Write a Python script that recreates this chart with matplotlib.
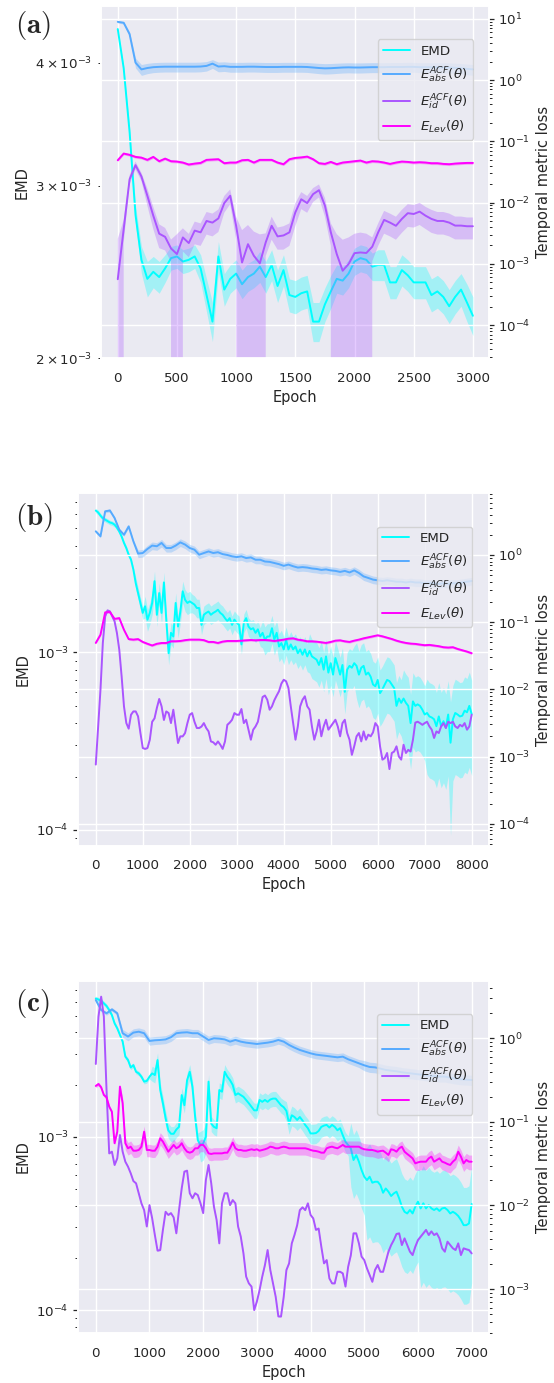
import numpy as np
import matplotlib
matplotlib.use('Agg')
import matplotlib.pyplot as plt
import seaborn as sns

sns.set_theme(style='darkgrid')
plt.rcParams.update({
    'axes.labelsize': 10.5, 'xtick.labelsize': 9.6, 'ytick.labelsize': 9.6,
    'legend.fontsize': 9.6, 'lines.linewidth': 1.4,
    'ytick.major.size': 3.5, 'ytick.minor.size': 2.5,
    'ytick.major.width': 0.9, 'ytick.minor.width': 0.7,
})

#------------------- panel (a): epochs 0..3000, step 50 -------------------
ep_a = np.arange(0, 3001, 50)
emd_a = np.array([4.33, 3.95, 3.40, 2.80, 2.52, 2.41, 2.45, 2.42, 2.47, 2.53,
                  2.54, 2.51, 2.52, 2.54, 2.47, 2.32, 2.18, 2.54, 2.35, 2.41,
                  2.44, 2.38, 2.42, 2.44, 2.48, 2.42, 2.49, 2.37, 2.46, 2.32,
                  2.31, 2.33, 2.34, 2.18, 2.18, 2.27, 2.34, 2.41, 2.40, 2.44,
                  2.51, 2.53, 2.52, 2.48, 2.49, 2.49, 2.39, 2.39, 2.46, 2.43,
                  2.39, 2.39, 2.39, 2.32, 2.34, 2.31, 2.26, 2.31, 2.35, 2.28, 2.21]) * 1e-3
emd_a_std = np.array([0.0, 0.02, 0.04, 0.06, 0.08, 0.10, 0.09, 0.09, 0.08, 0.07,
                      0.07, 0.07, 0.07, 0.07, 0.08, 0.09, 0.10, 0.09, 0.09, 0.08,
                      0.08, 0.08, 0.08, 0.08, 0.09, 0.09, 0.09, 0.09, 0.09, 0.09,
                      0.09, 0.09, 0.09, 0.10, 0.10, 0.09, 0.09, 0.08, 0.08, 0.08,
                      0.08, 0.08, 0.08, 0.08, 0.09, 0.09, 0.09, 0.09, 0.09, 0.09,
                      0.09, 0.09, 0.09, 0.09, 0.09, 0.09, 0.09, 0.09, 0.09, 0.10, 0.10]) * 1e-3
abs_a = np.array([8.9, 8.6, 5.6, 1.92, 1.49, 1.57, 1.62, 1.64, 1.65, 1.65,
                  1.65, 1.65, 1.65, 1.65, 1.66, 1.70, 1.85, 1.66, 1.68, 1.64,
                  1.64, 1.64, 1.65, 1.65, 1.64, 1.63, 1.63, 1.63, 1.64, 1.64,
                  1.64, 1.64, 1.63, 1.60, 1.57, 1.55, 1.56, 1.58, 1.60, 1.61,
                  1.60, 1.60, 1.61, 1.62, 1.62, 1.62, 1.63, 1.63, 1.63, 1.64,
                  1.64, 1.62, 1.62, 1.61, 1.61, 1.60, 1.60, 1.58, 1.56, 1.52, 1.49])
abs_a_std = np.array([0.4, 0.4, 0.5, 0.35] + [0.3] * 57)
id_a = np.array([0.56, 3.67, 24.0, 40.7, 26.6, 12.9, 6.1, 3.1, 2.75, 1.78,
                 1.44, 2.69, 2.18, 3.48, 3.26, 5.0, 4.7, 5.5, 9.8, 12.9,
                 4.17, 1.05, 2.09, 1.35, 1.02, 2.24, 4.17, 2.8, 2.9, 3.26,
                 6.9, 11.3, 9.8, 13.7, 15.9, 8.9, 3.26, 1.44, 0.77, 0.99,
                 1.49, 1.53, 1.5, 1.9, 3.26, 5.2, 4.7, 4.17, 5.4, 6.7,
                 6.5, 7.1, 6.1, 5.4, 5.0, 5.0, 4.7, 4.2, 4.2, 4.1, 4.1]) * 1e-3
id_a_std = np.array([2.0, 1.5, 4.0, 6.0, 4.0, 4.0, 2.4, 1.3, 1.1, 0.7,
                     1.6, 1.1, 0.9, 1.4, 1.3, 2.0, 1.9, 2.2, 3.0, 3.5,
                     1.7, 2.5, 2.2, 2.0, 2.0, 0.9, 1.7, 1.1, 1.2, 1.3,
                     2.8, 3.5, 3.0, 3.5, 3.8, 3.0, 1.3, 1.6, 1.7, 1.7,
                     1.6, 1.7, 1.6, 0.8, 1.3, 2.1, 1.9, 1.7, 2.2, 2.7,
                     2.6, 2.8, 2.4, 2.2, 2.0, 2.0, 1.9, 1.7, 1.7, 1.6, 1.6]) * 1e-3
lev_a = np.array([0.049, 0.063, 0.060, 0.0556, 0.054, 0.0497, 0.0556, 0.0472, 0.0521, 0.0472,
                  0.0466, 0.0449, 0.0417, 0.0432, 0.0443, 0.0497, 0.0503, 0.0509, 0.0438, 0.0449,
                  0.0449, 0.049, 0.0497, 0.0449, 0.0497, 0.0497, 0.0497, 0.0449, 0.0422, 0.0509,
                  0.0535, 0.0545, 0.0562, 0.0509, 0.0438, 0.0427, 0.046, 0.0422, 0.0449, 0.046,
                  0.0472, 0.0484, 0.0449, 0.0472, 0.0466, 0.0449, 0.0427, 0.0449, 0.0466, 0.046,
                  0.0449, 0.0455, 0.0449, 0.0438, 0.0438, 0.0427, 0.0422, 0.0432, 0.0438, 0.0443, 0.0443])
lev_a_rel = np.array([0.05] * 61)

#------------------- panel (b): epochs 0..8000 -------------------
ep_b = np.arange(0, 8001, 50)
ep_b100 = np.arange(0, 8001, 100)
emd_b = np.array([6.3, 6.15, 5.9, 5.7, 5.6, 5.5, 5.4, 5.35, 5.25, 5.05,
                  4.8, 4.5, 4.14, 3.87, 3.55, 3.33, 2.93, 2.46, 2.16, 1.90,
                  1.67, 1.82, 1.53, 1.67, 1.90, 2.52, 1.63, 2.16, 1.67, 2.48,
                  1.53, 0.99, 1.29, 1.23, 1.90, 1.40, 1.70, 2.21, 1.98, 1.90,
                  1.94, 1.90, 1.86, 1.78, 1.78, 1.43, 1.63, 1.67, 1.70, 1.63,
                  1.67, 1.70, 1.74, 1.67, 1.63, 1.56, 1.50, 1.56, 1.43, 1.53,
                  1.47, 1.43, 1.11, 1.47, 1.56, 1.40, 1.35, 1.37, 1.29, 1.35,
                  1.23, 1.29, 1.18, 1.23, 1.23, 1.37, 1.18, 1.29, 1.08, 1.13,
                  1.04, 1.18, 1.04, 1.11, 1.04, 1.08, 0.99, 1.04, 0.97, 1.04,
                  0.95, 1.02, 0.95, 0.93, 0.91, 0.85, 0.93, 0.80, 0.95, 0.77,
                  0.87, 0.75, 0.93, 0.84, 0.75, 0.85, 0.60, 0.80, 0.84, 0.82,
                  0.87, 0.84, 0.75, 0.82, 0.84, 0.75, 0.77, 0.73, 0.66, 0.645,
                  0.70, 0.59, 0.62, 0.66, 0.70, 0.69, 0.66, 0.63, 0.50, 0.55,
                  0.52, 0.55, 0.52, 0.50, 0.40, 0.53, 0.50, 0.51, 0.50, 0.476,
                  0.447, 0.456, 0.436, 0.43, 0.42, 0.384, 0.436, 0.384, 0.41, 0.376,
                  0.447, 0.31, 0.42, 0.456, 0.447, 0.436, 0.44, 0.47, 0.46, 0.50,
                  0.45]) * 1e-3
emd_b_rel = np.array([0.03] * 17 + [0.08] * 4 + [0.14] * 20 + [0.12] * 30 + [0.18] * 20
                     + [0.25] * 20 + [0.35] * 20 + [0.45] * 10 + [0.55] * 10 + [0.7]
                     + [0.55] * 9)
abs_b = np.array([2.25, 1.90, 4.47, 4.6, 3.55, 2.38, 2.0, 2.67, 1.6, 1.05,
                  1.07, 1.23, 1.38, 1.35, 1.51, 1.27, 1.27, 1.38, 1.54, 1.43,
                  1.27, 1.2, 1.01, 1.07, 1.13, 1.07, 1.1, 1.03, 1.0, 0.955,
                  0.93, 0.955, 0.90, 0.92, 0.85, 0.85, 0.80, 0.79, 0.76, 0.73,
                  0.69, 0.72, 0.68, 0.65, 0.66, 0.65, 0.63, 0.62, 0.60, 0.61,
                  0.59, 0.58, 0.56, 0.58, 0.55, 0.59, 0.54, 0.48, 0.455, 0.43,
                  0.42, 0.41, 0.42, 0.41, 0.40, 0.40, 0.39, 0.40, 0.39, 0.39,
                  0.38, 0.38, 0.38, 0.37, 0.38, 0.37, 0.38, 0.38, 0.39, 0.40,
                  0.41])
abs_b_rel = np.array([0.05] * 9 + [0.13] * 72)
id_b = np.array([0.76, 2.8, 9.9, 49, 122, 150, 145, 122, 103, 69,
                 39, 15.6, 5.6, 3.15, 2.6, 4.2, 4.7, 4.7, 3.96, 2.24,
                 1.34, 1.30, 1.34, 1.78, 3.3, 3.7, 5.3, 7.2, 5.6, 3.5,
                 4.7, 4.44, 3.15, 4.98, 2.8, 1.59, 2.0, 2.0, 2.24, 3.15,
                 4.2, 4.44, 3.3, 2.66, 2.66, 2.8, 3.15, 2.66, 2.37, 1.68,
                 1.63, 1.5, 1.68, 1.5, 1.3, 1.68, 2.97, 3.2, 3.53, 4.44,
                 4.2, 4.2, 5.1, 3.15, 3.53, 2.51, 1.78, 2.51, 2.81, 3.3,
                 4.98, 7.7, 8.1, 7.0, 4.98, 5.6, 6.9, 8.1, 9.4, 12.2,
                 13.9, 13.2, 10.5, 5.6, 3.15, 1.78, 2.81, 5.6, 7.0, 7.9,
                 5.6, 4.98, 2.81, 1.78, 2.37, 3.53, 2.0, 2.81, 3.53, 2.51,
                 2.81, 3.15, 3.53, 2.81, 2.0, 3.15, 3.53, 2.24, 1.78, 1.06,
                 1.42, 2.0, 2.24, 1.68, 2.37, 1.78, 2.12, 2.0, 2.29, 3.15,
                 2.81, 1.42, 0.90, 0.95, 1.13, 0.65, 1.13, 1.19, 1.42, 1.0,
                 0.90, 1.5, 1.13, 1.26, 1.19, 1.78, 3.2, 3.3, 3.15, 2.97,
                 3.15, 3.3, 2.81, 2.51, 1.89, 2.37, 2.24, 2.81, 3.15, 2.66,
                 3.3, 3.15, 3.3, 2.81, 2.66, 2.97, 2.81, 3.15, 2.51, 2.81,
                 4.2]) * 1e-3
id_b_rel = np.array([0.02] * 161)
lev_b = np.array([0.0491, 0.065, 0.14, 0.142, 0.112, 0.115, 0.077, 0.056, 0.055, 0.056,
                  0.0508, 0.0477, 0.045, 0.0477, 0.049, 0.049, 0.052, 0.052, 0.0525, 0.054,
                  0.055, 0.055, 0.055, 0.054, 0.0508, 0.0508, 0.049, 0.0514, 0.0525, 0.0525,
                  0.0525, 0.0531, 0.0537, 0.0543, 0.0537, 0.0543, 0.0543, 0.0537, 0.0525, 0.0537,
                  0.055, 0.0568, 0.0575, 0.055, 0.0537, 0.0519, 0.0519, 0.0513, 0.0502, 0.0491,
                  0.0508, 0.0531, 0.0537, 0.0519, 0.0508, 0.0531, 0.055, 0.0575, 0.0595, 0.0616,
                  0.0638, 0.0616, 0.0588, 0.0562, 0.0531, 0.0508, 0.0491, 0.048, 0.0475, 0.0464,
                  0.0454, 0.0459, 0.0449, 0.0439, 0.0424, 0.0419, 0.0424, 0.040, 0.0382, 0.0365,
                  0.0345])
lev_b_rel = np.array([0.04] * 81)

#------------------- panel (c): epochs 0..7000 -------------------
ep_c = np.arange(0, 7001, 50)
ep_c100 = np.arange(0, 7001, 100)
emd_c = np.array([6.28, 6.19, 6.09, 5.88, 5.68, 5.38, 5.03, 4.51, 4.22, 3.86,
                  3.54, 2.90, 2.77, 2.51, 2.59, 2.37, 2.32, 2.22, 2.08, 2.10,
                  2.22, 2.32, 2.27, 2.77, 1.86, 1.56, 1.28, 1.09, 1.04, 1.04,
                  1.10, 1.14, 1.74, 1.52, 2.12, 2.37, 1.94, 1.30, 0.957, 0.895,
                  0.915, 1.0, 2.08, 1.19, 1.14, 1.12, 1.86, 1.82, 2.37, 2.22,
                  2.12, 1.99, 1.74, 1.78, 1.74, 1.70, 1.63, 1.56, 1.49, 1.42,
                  1.42, 1.63, 1.59, 1.63, 1.59, 1.64, 1.66, 1.66, 1.59, 1.52,
                  1.48, 1.41, 1.19, 1.33, 1.30, 1.25, 1.30, 1.24, 1.17, 1.12,
                  1.045, 1.045, 1.05, 1.08, 1.14, 1.16, 1.17, 1.13, 1.17, 1.14,
                  1.09, 1.12, 1.02, 0.936, 0.895, 0.856, 0.734, 0.784, 0.718, 0.642,
                  0.588, 0.562, 0.588, 0.543, 0.55, 0.55, 0.526, 0.475, 0.503, 0.482,
                  0.455, 0.471, 0.482, 0.441, 0.395, 0.369, 0.361, 0.378, 0.361, 0.395,
                  0.422, 0.386, 0.413, 0.386, 0.404, 0.386, 0.378, 0.386, 0.373, 0.386,
                  0.389, 0.378, 0.361, 0.369, 0.361, 0.349, 0.331, 0.309, 0.309, 0.316,
                  0.409]) * 1e-3
emd_c_rel = np.array([0.03] * 21 + [0.1] * 18 + [0.2] * 3 + [0.1] * 29 + [0.13] * 24
                     + [0.4] * 6 + [0.55] * 20 + [0.65] * 20)
abs_c = np.array([2.87, 2.18, 1.99, 2.22, 1.99, 1.15, 1.05, 1.17, 1.20, 1.15,
                  0.929, 0.946, 0.955, 0.97, 1.03, 1.15, 1.17, 1.18, 1.15, 1.15,
                  1.05, 0.955, 1.0, 0.99, 0.97, 0.912, 0.955, 0.912, 0.887, 0.871,
                  0.855, 0.871, 0.887, 0.912, 0.955, 0.912, 0.832, 0.773, 0.725, 0.692,
                  0.661, 0.638, 0.626, 0.615, 0.603, 0.592, 0.603, 0.561, 0.531, 0.502,
                  0.475, 0.454, 0.449, 0.434, 0.418, 0.41, 0.403, 0.392, 0.385, 0.378,
                  0.371, 0.364, 0.357, 0.354, 0.348, 0.348, 0.338, 0.329, 0.323, 0.320,
                  0.317])
abs_c_rel = np.array([0.05] * 5 + [0.11] * 45 + [0.14] * 21)
id_c = np.array([493, 1820, 3150, 1820, 241, 42, 44, 30.5, 36.6, 69.7,
                 44, 33.4, 29.1, 24.3, 19.6, 18.4, 14.0, 10.6, 8.8, 5.6,
                 10.1, 7.0, 4.43, 2.88, 2.93, 5.1, 8.4, 7.7, 8.1, 7.2,
                 4.64, 8.8, 16.0, 25.4, 26.1, 14.0, 12.2, 14.0, 13.3, 10.6,
                 8.1, 20.2, 30.5, 18.4, 9.7, 6.7, 3.52, 10.6, 14.0, 14.0,
                 10.1, 11.6, 10.6, 5.6, 4.24, 2.67, 1.41, 1.17, 1.07, 0.56,
                 0.71, 0.97, 1.41, 1.94, 2.93, 1.69, 1.17, 0.81, 0.47, 0.47,
                 0.81, 1.69, 2.03, 3.52, 4.43, 5.8, 8.8, 9.5, 8.8, 10.6,
                 7.7, 7.0, 5.1, 5.3, 3.21, 2.03, 2.22, 1.34, 1.17, 1.17,
                 1.61, 1.61, 1.54, 1.07, 1.85, 2.55, 4.64, 4.64, 3.52, 2.44,
                 2.22, 1.77, 1.47, 1.22, 1.69, 1.94, 1.61, 1.61, 2.13, 2.8,
                 3.36, 3.86, 4.56, 4.64, 3.36, 4.04, 3.36, 2.8, 2.55, 3.21,
                 3.86, 4.24, 4.64, 5.1, 4.43, 4.9, 4.43, 4.64, 4.04, 3.07,
                 2.8, 3.69, 3.36, 3.07, 2.93, 3.52, 2.55, 3.07, 2.99, 2.93,
                 2.67]) * 1e-3
id_c_rel = np.array([0.02] * 141)
lev_c = np.array([0.269, 0.284, 0.259, 0.21, 0.197, 0.152, 0.132, 0.0555, 0.0764, 0.264,
                  0.167, 0.0555, 0.0483, 0.0505, 0.0452, 0.0452, 0.0461, 0.0505, 0.0764, 0.0461,
                  0.0461, 0.0452, 0.0452, 0.0505, 0.0636, 0.058, 0.0505, 0.044, 0.0483, 0.053,
                  0.0483, 0.0505, 0.0555, 0.0483, 0.044, 0.0428, 0.044, 0.0483, 0.0483, 0.053,
                  0.053, 0.0483, 0.042, 0.0413, 0.042, 0.042, 0.042, 0.042, 0.0428, 0.0428,
                  0.0483, 0.0565, 0.0483, 0.0461, 0.0461, 0.0452, 0.0452, 0.0461, 0.047, 0.0461,
                  0.047, 0.0452, 0.0461, 0.047, 0.0483, 0.0505, 0.0497, 0.0483, 0.0483, 0.0497,
                  0.0505, 0.0497, 0.0483, 0.0483, 0.0483, 0.0483, 0.0483, 0.0483, 0.0483, 0.0474,
                  0.0461, 0.0452, 0.0448, 0.044, 0.0428, 0.0428, 0.0483, 0.0497, 0.0505, 0.0492,
                  0.0483, 0.0505, 0.053, 0.0505, 0.0505, 0.0505, 0.0505, 0.0505, 0.0505, 0.0483,
                  0.047, 0.0466, 0.0461, 0.0461, 0.0452, 0.044, 0.0448, 0.0452, 0.0428, 0.0402,
                  0.047, 0.0461, 0.044, 0.0483, 0.0505, 0.044, 0.0413, 0.039, 0.0366, 0.0319,
                  0.0328, 0.0334, 0.0334, 0.0334, 0.0366, 0.0384, 0.0334, 0.035, 0.0366, 0.0334,
                  0.0325, 0.0313, 0.0305, 0.0334, 0.0357, 0.044, 0.0384, 0.0319, 0.035, 0.0334,
                  0.0334])
lev_c_rel = np.array([0.05] * 10 + [0.17] * 110 + [0.2] * 21)

labels = ['EMD', r'$E^{ACF}_{abs}(\theta)$', r'$E^{ACF}_{id}(\theta)$', r'$E_{Lev}(\theta)$']
colors = plt.cm.cool(np.linspace(0, 1, 4))


def band(ax, x, y, std, c):
    line, = ax.plot(x, y, color=c)
    ax.fill_between(x, y - std, y + std, color=c, alpha=0.3, linewidth=0)
    return line


def panel(rect, tag, tag_y, emd, abs_, id_, lev, xlim, ylim_l, ylim_r):
    ax = fig.add_axes(rect)
    ax.set_yscale('log')
    ax2 = ax.twinx()
    ax2.set_yscale('log')
    h = [band(ax, emd[0], emd[1], emd[2], colors[0]),
         band(ax2, abs_[0], abs_[1], abs_[2], colors[1]),
         band(ax2, id_[0], id_[1], id_[2], colors[2]),
         band(ax2, lev[0], lev[1], lev[2], colors[3])]
    ax.set_xlim(*xlim)
    ax.set_ylim(*ylim_l)
    ax2.set_ylim(*ylim_r)
    ax.set_xlabel('Epoch')
    ax.set_ylabel('EMD')
    ax2.set_ylabel('Temporal metric loss')
    ax.tick_params(axis='y', which='both', left=True, color='.15')
    ax2.tick_params(axis='y', which='both', right=True, color='.15')
    ax2.legend(h, labels, loc='upper right', bbox_to_anchor=(0.960, 0.9055),
               borderaxespad=0)
    fig.text(15 / 554, tag_y, r'$\mathbf{(%s)}$' % tag, fontsize=21,
             ha='left', va='top', math_fontfamily='cm')


fig = plt.figure(figsize=(5.54, 13.83), dpi=100)

panel([0.1818, 0.7409, 0.7004, 0.2547], 'a', 0.9935,
      (ep_a, emd_a, emd_a_std), (ep_a, abs_a, abs_a_std),
      (ep_a, id_a, id_a_std), (ep_a, lev_a, lev_a * lev_a_rel),
      (-144, 3134), (2.0e-3, 4.57e-3), (2.86e-5, 16.1))
panel([0.1415, 0.3885, 0.7406, 0.2548], 'b', 0.6379,
      (ep_b, emd_b, emd_b * emd_b_rel), (ep_b100, abs_b, abs_b * abs_b_rel),
      (ep_b, id_b, id_b * id_b_rel), (ep_b100, lev_b, lev_b * lev_b_rel),
      (-370, 8362), (8.15e-5, 7.88e-3), (4.71e-5, 8.28))
panel([0.1415, 0.0359, 0.7406, 0.2550], 'c', 0.2863,
      (ep_c, emd_c, emd_c * emd_c_rel), (ep_c100, abs_c, abs_c * abs_c_rel),
      (ep_c, id_c, id_c * id_c_rel), (ep_c, lev_c, lev_c * lev_c_rel),
      (-324, 7317), (7.34e-5, 7.95e-3), (2.95e-4, 4.89))

fig.savefig('out.png', dpi=100)
